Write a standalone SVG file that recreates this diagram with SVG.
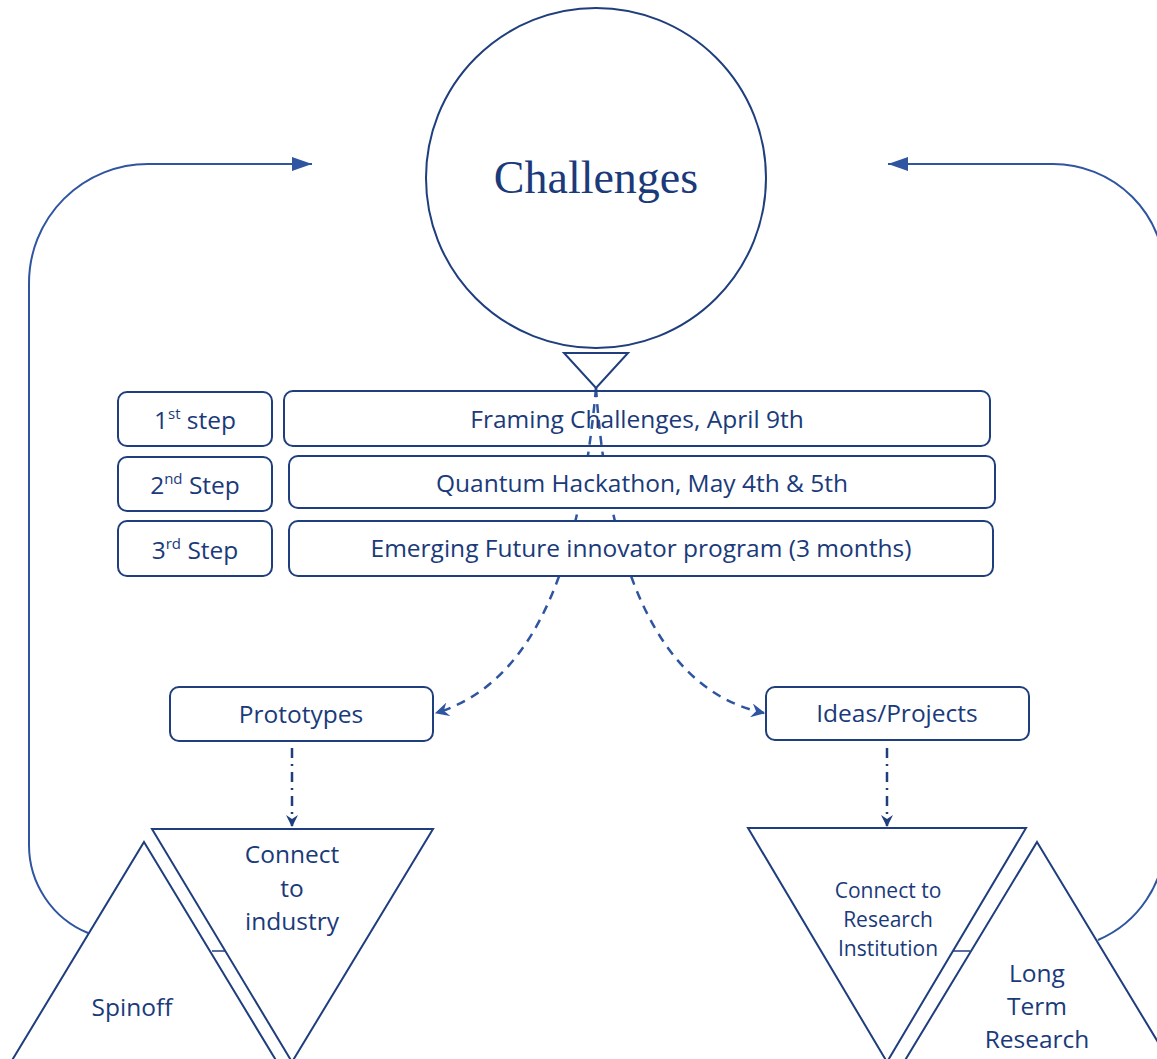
<svg xmlns="http://www.w3.org/2000/svg" width="1157" height="1059" viewBox="0 0 1157 1059">
<defs>
<style>
.shape{fill:#fff;stroke:#1f3e7e;stroke-width:2}
.nofill{fill:none;stroke:#1f3e7e;stroke-width:2}
.loop{fill:none;stroke:#2f55a0;stroke-width:2}
.dash{fill:none;stroke:#2f55a0;stroke-width:2.5;stroke-dasharray:9 7}
.dashdot{fill:none;stroke:#1f3e7e;stroke-width:2.5;stroke-dasharray:10 6 2 6}
.o{font-family:"Open Sans","Noto Sans",sans-serif;fill:#1a3a7a;text-anchor:middle}
.s{font-size:24.5px}
.sm{font-size:21px}
</style>
<marker id="barb" viewBox="0 0 12 12" refX="11" refY="6" markerWidth="14" markerHeight="14" markerUnits="userSpaceOnUse" orient="auto"><path d="M0,0 L12,6 L0,12 L4,6 Z" fill="#2f55a0"/></marker>
<marker id="barb2" viewBox="0 0 12 12" refX="11" refY="6" markerWidth="12" markerHeight="12" markerUnits="userSpaceOnUse" orient="auto"><path d="M0,0 L12,6 L0,12 L4,6 Z" fill="#1f3e7e"/></marker>
<marker id="big" viewBox="0 0 20 14" refX="20" refY="7" markerWidth="20" markerHeight="14" markerUnits="userSpaceOnUse" orient="auto"><path d="M0,0 L20,7 L0,14 Z" fill="#2f55a0"/></marker>
</defs>

<g id="connectors">
<path class="loop" d="M88,933 A95,95 0 0 1 29,845 L29,283 A119,119 0 0 1 148,164 L312,164" marker-end="url(#big)"/>
<path class="loop" d="M1098,940 A110,110 0 0 0 1165,839 L1165,276 A112,112 0 0 0 1053,164 L888,164" marker-end="url(#big)"/>
<path class="dash" d="M596,388 C582,540 545,680 436,713" marker-end="url(#barb)"/>
<path class="dash" d="M596,388 C608,560 655,690 764,713" marker-end="url(#barb)"/>
<path class="dashdot" d="M292,748 L292,826" marker-end="url(#barb2)"/>
<path class="dashdot" d="M887,748 L887,826" marker-end="url(#barb2)"/>
<line x1="212" y1="951" x2="225" y2="951" stroke="#1f3e7e" stroke-width="1.5"/>
<line x1="953" y1="951" x2="970" y2="951" stroke="#1f3e7e" stroke-width="1.5"/>
</g>

<g id="challenges">
<circle class="nofill" cx="596" cy="178" r="170"/>
<text x="596" y="193" style="font-family:'Liberation Serif','Times New Roman',serif;font-size:46px;fill:#1a3a7a;text-anchor:middle">Challenges</text>
</g>
<g id="small-triangle">
<path class="nofill" d="M564,353 L628,353 L596,388 Z"/>
</g>

<g id="step1">
<rect class="shape" x="118" y="392" width="154" height="54" rx="9"/>
<text class="o s" x="195" y="429">1<tspan dy="-10" font-size="15">st</tspan><tspan dy="10"> step</tspan></text>
</g>
<g id="step2">
<rect class="shape" x="118" y="457" width="154" height="54" rx="9"/>
<text class="o s" x="195" y="494">2<tspan dy="-10" font-size="15">nd</tspan><tspan dy="10"> Step</tspan></text>
</g>
<g id="step3">
<rect class="shape" x="118" y="521" width="154" height="55" rx="9"/>
<text class="o s" x="195" y="559">3<tspan dy="-10" font-size="15">rd</tspan><tspan dy="10"> Step</tspan></text>
</g>
<g id="framing">
<rect class="nofill" x="284" y="391" width="706" height="55" rx="9"/>
<text class="o s" x="637" y="428">Framing Challenges, April 9th</text>
</g>
<g id="hackathon">
<rect class="shape" x="289" y="456" width="706" height="52" rx="9"/>
<text class="o s" x="642" y="492">Quantum Hackathon, May 4th &amp; 5th</text>
</g>
<g id="program">
<rect class="shape" x="289" y="521" width="704" height="55" rx="9"/>
<text class="o s" x="641" y="557">Emerging Future innovator program (3 months)</text>
</g>

<g id="prototypes">
<rect class="shape" x="170" y="687" width="263" height="54" rx="9"/>
<text class="o s" x="301" y="723">Prototypes</text>
</g>
<g id="ideas">
<rect class="shape" x="766" y="687" width="263" height="53" rx="9"/>
<text class="o s" x="897" y="722">Ideas/Projects</text>
</g>

<g id="spinoff">
<path class="nofill" d="M144,842 L277,1062 L11,1062 Z"/>
<text class="o s" x="132" y="1016">Spinoff</text>
</g>
<g id="connect-industry">
<path class="nofill" d="M152,829 L433,829 L292,1062 Z"/>
<text class="o s" x="292" y="863">Connect</text>
<text class="o s" x="292" y="897">to</text>
<text class="o s" x="292" y="930">industry</text>
</g>
<g id="connect-research">
<path class="nofill" d="M748,828 L1026,828 L887,1062 Z"/>
<text class="o sm" x="888" y="898">Connect to</text>
<text class="o sm" x="888" y="927">Research</text>
<text class="o sm" x="888" y="956">Institution</text>
</g>
<g id="long-term">
<path class="nofill" d="M1037,842 L1170,1062 L904,1062 Z"/>
<text class="o s" x="1037" y="982">Long</text>
<text class="o s" x="1037" y="1015">Term</text>
<text class="o s" x="1037" y="1048">Research</text>
</g>
</svg>
